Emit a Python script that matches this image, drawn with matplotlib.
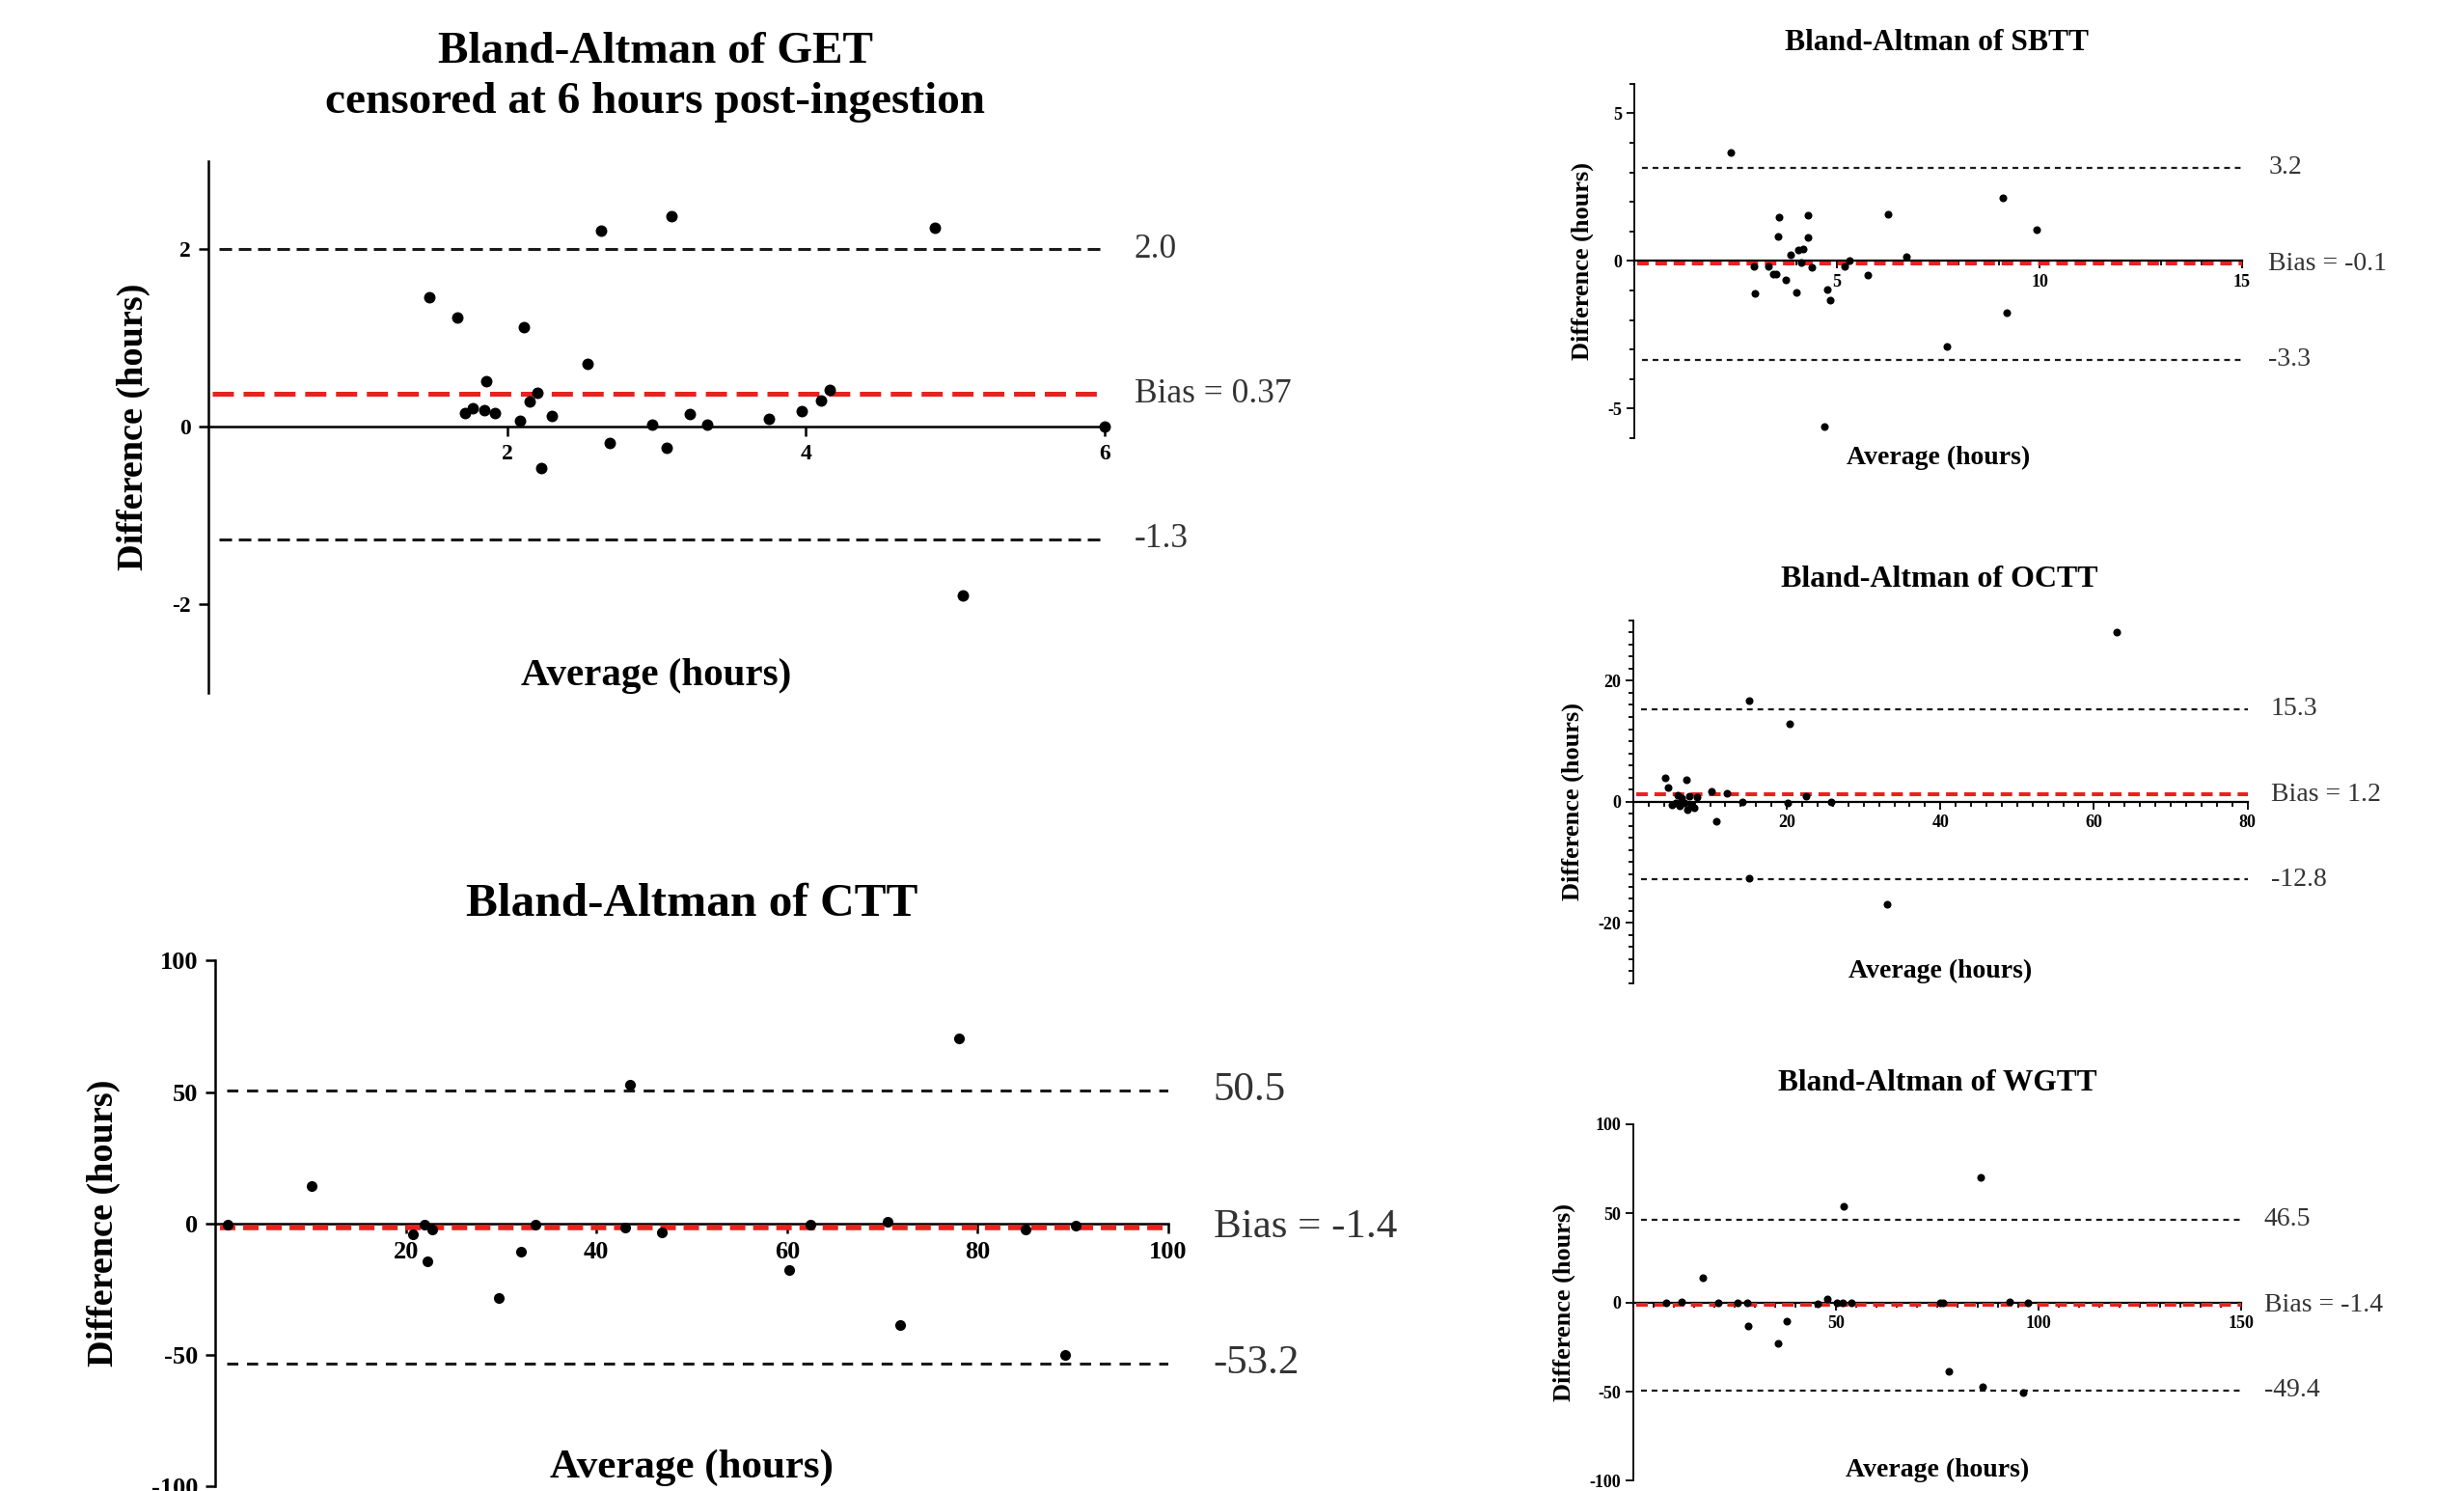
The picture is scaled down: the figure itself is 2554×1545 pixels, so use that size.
import matplotlib
matplotlib.use("Agg")
import matplotlib.pyplot as plt
from matplotlib.ticker import MultipleLocator

plt.rcParams['font.family'] = ['Liberation Serif', 'DejaVu Serif']
plt.rcParams['axes.unicode_minus'] = False
plt.rcParams['lines.scale_dashes'] = False

# ---------------- data ----------------
get_avg = [1.48, 1.67, 2.11, 1.86, 1.72, 1.77, 1.85, 1.92, 2.09, 2.15, 2.20, 2.30, 2.23,
           2.54, 2.63, 2.69, 3.10, 2.97, 3.07, 3.22, 3.34, 3.75, 3.97, 4.10, 4.16, 4.86, 5.05, 6.00]
get_diff = [1.46, 1.23, 1.12, 0.51, 0.16, 0.21, 0.19, 0.15, 0.07, 0.28, 0.38, 0.12, -0.47,
            0.71, 2.21, -0.18, 2.38, 0.02, -0.24, 0.14, 0.02, 0.09, 0.18, 0.30, 0.42, 2.24, -1.90, 0.00]
get_limits = [2.0, 0.37, -1.27]
get_limit_labels = ["2.0", "Bias = 0.37", "-1.3"]
get_xticks = [2, 4, 6]
get_yticks = [-2, 0, 2]

ctt_avg = [1.3, 10.1, 20.7, 22.0, 22.3, 22.8, 29.8, 32.1, 33.6, 43.0, 43.5, 46.9,
           60.2, 62.4, 70.5, 71.9, 78.0, 85.0, 89.2, 90.3]
ctt_diff = [-0.5, 14.1, -4.1, -0.3, -14.4, -2.3, -28.3, -10.6, -0.6, -1.5, 52.6, -3.3,
            -17.7, -0.6, 0.5, -38.6, 70.4, -2.3, -49.9, -0.8]
ctt_limits = [50.5, -1.4, -53.2]
ctt_limit_labels = ["50.5", "Bias = -1.4", "-53.2"]
ctt_xticks = [20, 40, 60, 80, 100]
ctt_yticks = [-100, -50, 0, 50, 100]

sbtt_avg = [2.39, 2.96, 2.97, 3.32, 3.43, 3.51, 3.54, 3.58, 3.75, 3.86, 4.01, 4.04, 4.12, 4.17,
            4.28, 4.29, 4.39, 4.68, 4.77, 4.84, 5.20, 5.30, 5.77, 6.26, 6.72, 7.71, 9.09, 9.19, 9.94]
sbtt_diff = [3.66, -0.19, -1.11, -0.19, -0.43, -0.43, 0.83, 1.48, -0.65, 0.22, -1.05, 0.38, -0.05, 0.41,
             0.79, 1.56, -0.22, -5.60, -0.97, -1.32, -0.17, 0.00, -0.49, 1.57, 0.16, -2.90, 2.14, -1.75, 1.07]
sbtt_limits = [3.15, -0.1, -3.35]
sbtt_limit_labels = ["3.2", "Bias = -0.1", "-3.3"]
sbtt_xticks = [5, 10, 15]
sbtt_yticks = [-5, 0, 5]

octt_avg = [4.18, 4.56, 5.02, 5.56, 5.79, 6.02, 6.25, 6.63, 6.86, 7.01, 7.32, 7.55, 7.93,
            8.24, 10.22, 10.76, 12.13, 14.20, 15.11, 15.11, 20.16, 20.31, 22.45, 25.82, 33.0, 62.98]
octt_diff = [3.99, 2.34, -0.48, -0.21, 1.01, -0.75, 0.59, -0.21, 3.62, -1.28, 0.85, -0.48, -1.01,
             0.69, 1.65, -3.30, 1.33, 0.00, 16.77, -12.67, -0.16, 12.83, 0.96, -0.11, -16.99, 28.0]
octt_limits = [15.3, 1.2, -12.8]
octt_limit_labels = ["15.3", "Bias = 1.2", "-12.8"]
octt_xticks = [20, 40, 60, 80]
octt_yticks = [-20, 0, 20]

wgtt_avg = [8.1, 12.0, 17.1, 20.9, 25.7, 28.1, 28.3, 35.8, 37.8, 45.4, 47.8, 50.3, 51.7,
            51.9, 53.8, 75.7, 76.5, 77.8, 85.7, 86.2, 92.9, 96.2, 97.4]
wgtt_diff = [-0.2, 0.5, 14.0, 0.0, 0.0, 0.0, -13.1, -22.7, -10.3, -0.7, 2.0, 0.0, 0.0,
             53.6, 0.0, -0.2, 0.0, -38.7, 70.0, -47.1, 0.4, -50.7, -0.2]
wgtt_limits = [46.5, -1.4, -49.4]
wgtt_limit_labels = ["46.5", "Bias = -1.4", "-49.4"]
wgtt_xticks = [50, 100, 150]
wgtt_yticks = [-100, -50, 0, 50, 100]

XLABEL = "Average (hours)"
YLABEL = "Difference (hours)"

RED = '#e8221f'
DARK = '#1a1a1a'
LABEL_GRAY = '#333333'

fig = plt.figure(figsize=(25.54, 15.45), dpi=100)


def panel(rect, xs, ys, limits, limit_labels, xlim, ylim, xticks, yticks, st):
    ax = fig.add_axes(rect)
    ax.set_xlim(xlim)
    ax.set_ylim(ylim)
    ax.patch.set_alpha(0)
    for sp in ['top', 'right']:
        ax.spines[sp].set_visible(False)
    ax.spines['bottom'].set_position(('data', 0))
    ax.spines['left'].set_linewidth(st['spine_lw'])
    ax.spines['bottom'].set_linewidth(st['zero_lw'])
    ax.set_xticks(xticks)
    ax.set_xticklabels([str(t) for t in xticks], fontweight='bold')
    ax.set_yticks(yticks)
    ax.set_yticklabels([str(t) for t in yticks], fontweight='bold')
    if st.get('xminor'):
        ax.xaxis.set_minor_locator(MultipleLocator(st['xminor']))
    if st.get('yminor'):
        ax.yaxis.set_minor_locator(MultipleLocator(st['yminor']))
    ax.tick_params(which='major', direction='out', length=st['tick_len'], width=st['spine_lw'],
                   labelsize=st['tick_fs'], pad=st['tick_pad'])
    ax.tick_params(which='minor', direction='out', length=st['tick_len'] * 0.6, width=st['spine_lw'])

    upper, bias, lower = limits
    for val in (upper, lower):
        ax.axhline(val, xmin=0.012, xmax=1, color=DARK, lw=st['lim_lw'], dashes=st['lim_dash'], zorder=2)
    ax.axhline(bias, xmin=0.005, xmax=1, color=RED, lw=st['bias_lw'], dashes=st['bias_dash'], zorder=3)

    ax.plot(xs, ys, 'o', color='black', ms=st['ms'], mec='none', zorder=5, clip_on=False)

    tr = ax.get_yaxis_transform()
    for val, lab in zip(limits, limit_labels):
        ax.text(1 + st['lab_off'], val, lab, transform=tr, ha='left', va='center',
                fontsize=st['lab_fs'], color=LABEL_GRAY)

    for (txt, tx, ty, fs) in st['titles']:
        ax.text(tx, ty, txt, transform=ax.transAxes, ha='center', va='center',
                fontsize=fs, fontweight='bold')
    ax.text(0.5, st['xlab_y'], XLABEL, transform=ax.transAxes, ha='center', va='center',
            fontsize=st['axlab_fs'], fontweight='bold')
    ax.text(st['ylab_x'], 0.5, YLABEL, transform=ax.transAxes, ha='center', va='center',
            rotation=90, fontsize=st['ylab_fs'], fontweight='bold')
    return ax


big_style = dict(spine_lw=1.8, zero_lw=1.8, tick_len=7, tick_fs=17, tick_pad=6,
                 lim_lw=2.2, lim_dash=(9.4, 5.0), bias_lw=3.6, bias_dash=(15.8, 7.2),
                 ms=8.6, lab_off=0.033, lab_fs=25.5, axlab_fs=29.5, ylab_fs=27.5)

get_style = dict(big_style, xlab_y=0.032, ylab_x=-0.083,
                 titles=[("Bland-Altman of GET", 0.4985, 1.204, 34),
                         ("censored at 6 hours post-ingestion", 0.4985, 1.110, 34)])
panel([0.08446, 0.53540, 0.36394, 0.35676], get_avg, get_diff, get_limits, get_limit_labels,
      (0, 6), (-3, 3), get_xticks, get_yticks, get_style)

ctt_style = dict(big_style, tick_fs=19, lim_dash=(8.3, 6.5), bias_lw=4.0, bias_dash=(11.5, 5.8),
                 ms=8.0, lab_off=0.047, lab_fs=31, axlab_fs=31, ylab_fs=27.5,
                 xlab_y=0.035, ylab_x=-0.117,
                 titles=[("Bland-Altman of CTT", 0.5005, 1.107, 35.5)])
panel([0.08731, 0.003236, 0.38688, 0.35249], ctt_avg, ctt_diff, ctt_limits, ctt_limit_labels,
      (0, 100), (-100, 100), ctt_xticks, ctt_yticks, ctt_style)

small_style = dict(spine_lw=1.3, zero_lw=1.6, tick_len=5.5, tick_fs=13, tick_pad=4,
                   lim_lw=1.6, lim_dash=(4.3, 3.6), bias_lw=2.9, bias_dash=(8.6, 5.0),
                   ms=5.8, lab_fs=20, axlab_fs=20, ylab_fs=19)

sbtt_style = dict(small_style, xminor=1, yminor=1, lab_off=0.043, xlab_y=-0.054, ylab_x=-0.086,
                  titles=[("Bland-Altman of SBTT", 0.498, 1.116, 22.7)])
panel([0.66327, 0.70608, 0.24667, 0.23780], sbtt_avg, sbtt_diff, sbtt_limits, sbtt_limit_labels,
      (0, 15), (-6, 6), sbtt_xticks, sbtt_yticks, sbtt_style)

octt_style = dict(small_style, xminor=2, yminor=2, lab_off=0.038, xlab_y=0.032, ylab_x=-0.099,
                  titles=[("Bland-Altman of OCTT", 0.498, 1.111, 23)])
panel([0.66288, 0.34052, 0.24922, 0.24350], octt_avg, octt_diff, octt_limits, octt_limit_labels,
      (0, 80), (-30, 30), octt_xticks, octt_yticks, octt_style)

wgtt_style = dict(small_style, xminor=5, lab_off=0.038, xlab_y=0.031, ylab_x=-0.114,
                  titles=[("Bland-Altman of WGTT", 0.5, 1.115, 22.6)])
panel([0.66288, 0.0068, 0.24659, 0.23935], wgtt_avg, wgtt_diff, wgtt_limits, wgtt_limit_labels,
      (0, 150), (-100, 100), wgtt_xticks, wgtt_yticks, wgtt_style)

fig.savefig("out.png", dpi=100)
